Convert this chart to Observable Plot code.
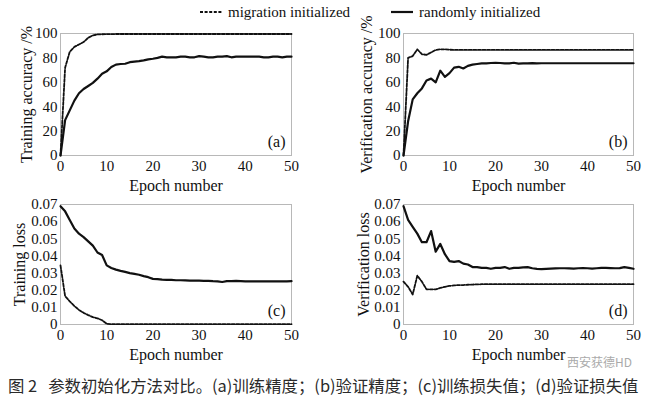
<!DOCTYPE html>
<html>
<head>
<meta charset="utf-8">
<script src="https://cdn.jsdelivr.net/npm/d3@7"></script>
<script src="https://cdn.jsdelivr.net/npm/@observablehq/plot@0.6"></script>
<style>
  html, body { margin: 0; padding: 0; background: #fff; }
  body { width: 650px; height: 398px; position: relative; overflow: hidden; font-family: "Liberation Serif", serif; color: #111; }
  .panel { position: absolute; }
  .panel svg { background: transparent !important; overflow: visible; }
  .panel svg text { font-family: "Liberation Serif", serif; font-size: 15px; fill: #111; }
  .panel g[aria-label="x-axis label"] text, .panel g[aria-label="y-axis label"] text { font-size: 16px; }
  .panel g[aria-label="text"] text { font-size: 16px; }
  #legend { position: absolute; top: 3px; left: 0; width: 650px; height: 20px; font-size: 15px; }
  .leg { position: absolute; top: 0; display: flex; align-items: center; white-space: nowrap; }
  .leg svg { margin-right: 6px; }
  #caption { position: absolute; left: 8px; top: 377px; line-height: 17px; font-family: "Noto Sans CJK SC", sans-serif; font-size: 16.4px; color: #2a2a2a; white-space: pre; }
  #wm { position: absolute; left: 567px; top: 356px; font-family: "Noto Sans CJK SC", sans-serif; font-size: 12px; line-height: 12px; color: #aaa; white-space: pre; }
</style>
</head>
<body>
<div id="legend">
  <div class="leg" style="left:200px"><svg width="22" height="18"><line x1="0" y1="9" x2="22" y2="9" stroke="#111" stroke-width="1.8" stroke-dasharray="3,1.6"/></svg><span>migration initialized</span></div>
  <div class="leg" style="left:391px"><svg width="22" height="18"><line x1="0" y1="9" x2="22" y2="9" stroke="#111" stroke-width="2.2"/></svg><span>randomly initialized</span></div>
</div>
<div id="pa" class="panel" style="left:0;top:20px"></div>
<div id="pb" class="panel" style="left:325px;top:20px"></div>
<div id="pc" class="panel" style="left:0;top:190px"></div>
<div id="pd" class="panel" style="left:325px;top:190px"></div>
<div id="wm">西安获德HD</div>
<div id="caption">图 2   参数初始化方法对比。(a)训练精度；(b)验证精度；(c)训练损失值；(d)验证损失值</div>
<script>
const epochs = [0,1,2,3,4,5,6,7,8,9,10,11,12,13,14,15,16,17,18,19,20,21,22,23,24,25,26,27,28,29,30,31,32,33,34,35,36,37,38,39,40,41,42,43,44,45,46,47,48,49,50];
const xTicks = [0,10,20,30,40,50];
const accTicks = [0,20,40,60,80,100];
const lossTicks = [0,0.01,0.02,0.03,0.04,0.05,0.06,0.07];
const seriesNames = ["migration initialized", "randomly initialized"];

// (a) training accuracy /%
const trainAccMigration = [0,72,85,89,91,93,96.5,98.5,99.2,99.4,99.5,99.5,99.6,99.6,99.6,99.6,99.6,99.6,99.6,99.6,99.6,99.6,99.6,99.6,99.6,99.6,99.6,99.6,99.6,99.6,99.6,99.6,99.6,99.6,99.6,99.6,99.6,99.6,99.6,99.6,99.6,99.6,99.6,99.6,99.6,99.6,99.6,99.6,99.6,99.6,99.6];
const trainAccRandom = [0,29,37,45,51,54.5,57,59.5,63,67,69,72.5,74.5,75,75.2,76.5,77,77.3,78,78.8,79.3,80,81,80.5,80.5,80.5,81,81,80.5,80.5,81.5,81,80.5,80.5,81,81,81.5,80.5,81,81,81,81,81,81,80.5,80.5,81,81,80.5,81,81];
// (b) verification accuracy /%
const valAccMigration = [0,80,81.5,87,83,82.5,84.5,86.5,87,87,86.7,86.5,86.5,86.5,86.5,86.5,86.5,86.5,86.5,86.5,86.5,86.5,86.5,86.5,86.5,86.5,86.5,86.5,86.5,86.5,86.5,86.5,86.5,86.5,86.5,86.5,86.5,86.5,86.5,86.5,86.5,86.5,86.5,86.5,86.5,86.5,86.5,86.5,86.5,86.5,86.5];
const valAccRandom = [0,28,46,51,55,61.5,63,60,69.5,64.5,67.5,72,72.7,71.3,73.5,74.5,75,75.5,75.5,75.8,76,75.8,75.5,75.5,76,75.3,75.5,75.5,75.7,75.5,75.6,75.6,75.6,75.6,75.6,75.6,75.6,75.6,75.6,75.6,75.6,75.6,75.6,75.6,75.6,75.6,75.6,75.6,75.6,75.6,75.6];
// (c) training loss
const trainLossMigration = [0.0345,0.0165,0.0135,0.0108,0.0085,0.0068,0.0055,0.0043,0.0036,0.0025,0.0004,0.0002,0.0002,0.0002,0.0002,0.0002,0.0002,0.0002,0.0002,0.0002,0.0002,0.0002,0.0002,0.0002,0.0002,0.0002,0.0002,0.0002,0.0002,0.0002,0.0002,0.0002,0.0002,0.0002,0.0002,0.0002,0.0002,0.0002,0.0002,0.0002,0.0002,0.0002,0.0002,0.0002,0.0002,0.0002,0.0002,0.0002,0.0002,0.0002,0.0002];
const trainLossRandom = [0.069,0.066,0.061,0.056,0.053,0.051,0.0485,0.046,0.042,0.0405,0.0345,0.033,0.032,0.0313,0.0307,0.030,0.0295,0.029,0.0282,0.0276,0.0266,0.0265,0.0262,0.026,0.026,0.0258,0.0258,0.0257,0.0256,0.0256,0.0256,0.0255,0.0255,0.0253,0.0252,0.0248,0.0253,0.0253,0.0254,0.0253,0.0252,0.0252,0.0252,0.0252,0.0252,0.0251,0.0251,0.0252,0.0252,0.0252,0.0253];
// (d) verification loss
const valLossMigration = [0.025,0.022,0.0175,0.0285,0.025,0.0205,0.0205,0.0205,0.0213,0.022,0.0225,0.0228,0.023,0.023,0.0232,0.0233,0.0234,0.0235,0.0235,0.0235,0.0235,0.0235,0.0235,0.0235,0.0235,0.0235,0.0235,0.0235,0.0235,0.0235,0.0235,0.0235,0.0235,0.0235,0.0235,0.0235,0.0235,0.0235,0.0235,0.0235,0.0235,0.0235,0.0235,0.0235,0.0235,0.0235,0.0235,0.0235,0.0235,0.0235,0.0235];
const valLossRandom = [0.069,0.061,0.057,0.053,0.048,0.048,0.0545,0.0425,0.047,0.041,0.037,0.0365,0.037,0.0355,0.035,0.0335,0.0335,0.033,0.033,0.0325,0.033,0.033,0.0335,0.0325,0.033,0.033,0.0333,0.0335,0.0328,0.0325,0.0323,0.0325,0.0326,0.0327,0.0328,0.0328,0.0327,0.0326,0.0328,0.0329,0.0328,0.0326,0.0328,0.033,0.033,0.0329,0.0328,0.0329,0.0335,0.033,0.0325];

function rows(values) { return epochs.map((e, i) => ({epoch: e, value: values[i]})); }
const lossFmt = d => d === 0 ? "0" : d.toFixed(2);

function panel(el, o) {
  const chart = Plot.plot({
    width: 325,
    height: 175,
    marginLeft: o.ml, marginRight: o.mr, marginTop: o.mt, marginBottom: o.mb,
    style: {fontFamily: "'Liberation Serif', serif", fontSize: "15px", color: "#111", background: "transparent", overflow: "visible"},
    x: {domain: [0, 50], ticks: xTicks, label: "Epoch number", labelArrow: "none", labelAnchor: "center", labelOffset: 35, tickSize: 0, tickPadding: 5},
    y: {domain: o.domain, ticks: o.ticks, tickFormat: o.fmt, label: o.label, labelArrow: "none", labelAnchor: "center", labelOffset: o.lo, tickSize: 0, tickPadding: 3},
    marks: [
      Plot.frame({stroke: "#b8b8b8", strokeWidth: 1}),
      Plot.line(rows(o.mig), {x: "epoch", y: "value", stroke: "#111", strokeWidth: 1.8, strokeDasharray: "3,1.6"}),
      Plot.line(rows(o.rnd), {x: "epoch", y: "value", stroke: "#111", strokeWidth: 2.2}),
      Plot.text([o.tag], {text: d => d, frameAnchor: "bottom-right", dx: -6, dy: -9, fontSize: 16})
    ]
  });
  document.getElementById(el).appendChild(chart);
}

panel("pa", {ml: 60, mr: 34, mt: 13, mb: 40, domain: [0, 100], ticks: accTicks, fmt: d => String(d), label: "Training accuracy /%", lo: 40, mig: trainAccMigration, rnd: trainAccRandom, tag: "(a)"});
panel("pb", {ml: 78, mr: 17, mt: 13, mb: 40, domain: [0, 100], ticks: accTicks, fmt: d => String(d), label: "Verification accuracy /%", lo: 43, mig: valAccMigration, rnd: valAccRandom, tag: "(b)"});
panel("pc", {ml: 60, mr: 34, mt: 14, mb: 41, domain: [0, 0.07], ticks: lossTicks, fmt: lossFmt, label: "Training loss", lo: 47, mig: trainLossMigration, rnd: trainLossRandom, tag: "(c)"});
panel("pd", {ml: 78, mr: 17, mt: 14, mb: 41, domain: [0, 0.07], ticks: lossTicks, fmt: lossFmt, label: "Verification loss", lo: 46, mig: valLossMigration, rnd: valLossRandom, tag: "(d)"});
</script>
</body>
</html>
